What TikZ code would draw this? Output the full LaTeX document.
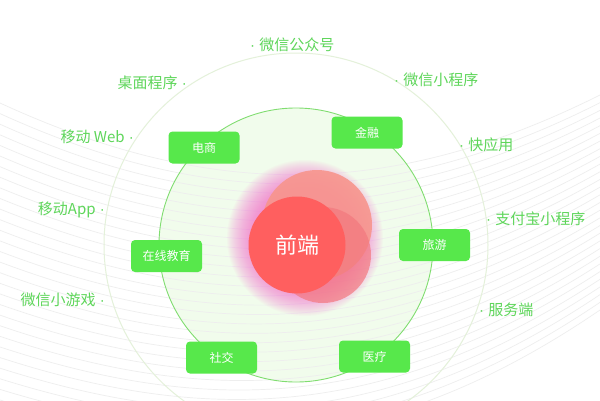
\documentclass[tikz,border=0pt]{standalone}
\usepackage{fontspec}
\setmainfont{Noto Sans CJK SC}
\newfontfamily\dotfont{Liberation Sans}
\definecolor{boxgreen}{HTML}{57E84B}
\definecolor{labgreen}{HTML}{5ED65A}
\definecolor{ringgreen}{HTML}{80DD70}
\definecolor{ringfaint}{HTML}{E4F1DA}
\definecolor{innerfill}{HTML}{F1FCEC}
\definecolor{bgline}{HTML}{EEEEEE}
\definecolor{mainred}{HTML}{FF5F5F}
\definecolor{backpink}{HTML}{F7958C}
\definecolor{lowpink}{HTML}{F3787E}
\definecolor{glowpink}{HTML}{F46CD2}
\newcommand{\dt}{{\dotfont ·\ }}
\newcommand{\td}{{\dotfont\ ·}}
\tikzset{
  catbox/.style={fill=boxgreen, rounded corners=4pt, minimum width=71pt, minimum height=32pt,
    text=white, font=\fontsize{12}{14}\selectfont, inner sep=0pt},
  lab/.style={text=labgreen, font=\fontsize{15}{18}\selectfont, inner sep=0pt},
  bgcurve/.style={draw=bgline, line width=0.7pt}
}
\begin{document}
\begin{tikzpicture}[x=1pt,y=-1pt]
\useasboundingbox (0,0) rectangle (600,400);
\fill[white] (0,0) rectangle (600,400);
% inner filled circle
\fill[innerfill] (296,245) circle (137);
% background curves
\begin{scope}
\clip (0,0) rectangle (600,400);
\foreach \i in {0,...,28}{
  \pgfmathsetmacro{\s}{\i/28}
  \pgfmathsetmacro{\yl}{103+297*\s}
  \pgfmathsetmacro{\ca}{195+265*\s}
  \pgfmathsetmacro{\cb}{205+255*\s}
  \pgfmathsetmacro{\yr}{95+215*\s}
  \draw[bgcurve] (0,\yl) .. controls (200,\ca) and (380,\cb) .. (600,\yr);
}
\end{scope}
% rings
\draw[ringfaint, line width=1pt] (296,245) circle (192);
\draw[ringgreen, line width=0.9pt] (296,245) circle (137);
% glow
\foreach \r in {78,77,...,50}{
  \fill[glowpink, opacity=0.04] (305,238) circle (\r);
}
% blobs
\fill[backpink, opacity=0.9] (317,225) circle (55);
\fill[lowpink, opacity=0.7] (323,255) circle (48);
\fill[mainred] (297,245) circle (48.5);
\node[text=white, font=\fontsize{22}{26}\selectfont, inner sep=0pt] (fe) at (297,245) {前端};
% category boxes
\node[catbox] (ds) at (204,147.5) {电商};
\node[catbox] (jr) at (367,132.5) {金融};
\node[catbox] (ly) at (434.5,245) {旅游};
\node[catbox] (jy) at (166.5,256) {在线教育};
\node[catbox] (sj) at (221.5,357.5) {社交};
\node[catbox] (yl) at (374.5,356.5) {医疗};
% outer labels
\node[lab, anchor=west] (l1) at (250,45) {\dt 微信公众号};
\node[lab, anchor=east] (l2) at (187,83) {桌面程序\td};
\node[lab, anchor=east] (l3) at (134,137) {移动 Web\td};
\node[lab, anchor=east] (l4) at (105,210) {移动App\td};
\node[lab, anchor=east] (l5) at (105,300) {微信小游戏\td};
\node[lab, anchor=west] (l6) at (394,80) {\dt 微信小程序};
\node[lab, anchor=west] (l7) at (459,145) {\dt 快应用};
\node[lab, anchor=west] (l8) at (486,219) {\dt 支付宝小程序};
\node[lab, anchor=west] (l9) at (479,310) {\dt 服务端};
\end{tikzpicture}
\end{document}
